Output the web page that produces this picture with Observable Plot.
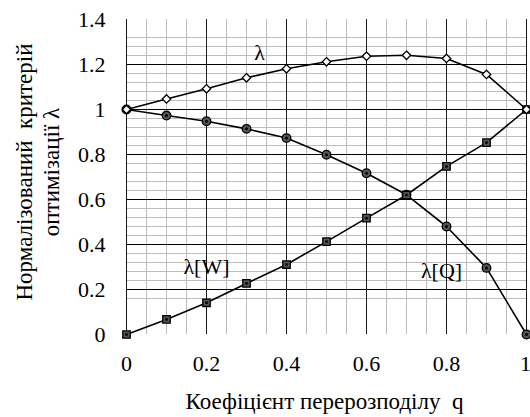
<!DOCTYPE html>
<html>
<head>
<meta charset="utf-8">
<script src="https://cdn.jsdelivr.net/npm/d3@7"></script>
<script src="https://cdn.jsdelivr.net/npm/@observablehq/plot@0.6"></script>
<style>
  html, body { margin: 0; padding: 0; background: #fff; }
  svg text { font-family: "Liberation Serif", "Times New Roman", serif; }
</style>
</head>
<body>
<div id="chart"></div>
<script>
// Data
const q = [0, 0.1, 0.2, 0.3, 0.4, 0.5, 0.6, 0.7, 0.8, 0.9, 1];
const lambda  = [1.0, 1.047, 1.092, 1.141, 1.181, 1.212, 1.237, 1.241, 1.227, 1.156, 1.0];
const lambdaQ = [1.0, 0.973, 0.948, 0.914, 0.873, 0.799, 0.717, 0.621, 0.48, 0.296, 0];
const lambdaW = [0, 0.067, 0.141, 0.227, 0.311, 0.413, 0.517, 0.62, 0.747, 0.853, 1.0];

const xTicks = [0, 0.2, 0.4, 0.6, 0.8, 1];
const xTickLabels = ["0", "0.2", "0.4", "0.6", "0.8", "1"];
const yTicks = [0, 0.2, 0.4, 0.6, 0.8, 1, 1.2, 1.4];
const yTickLabels = ["0", "0.2", "0.4", "0.6", "0.8", "1", "1.2", "1.4"];
const xMinor = [0.05, 0.1, 0.15, 0.25, 0.3, 0.35, 0.45, 0.5, 0.55, 0.65, 0.7, 0.75, 0.85, 0.9, 0.95];
const yMinor = [0.16, 0.24, 0.28, 0.32, 0.36, 0.44, 0.48, 0.52, 0.56, 0.64, 0.68, 0.72, 0.76,
                0.84, 0.88, 0.92, 0.96, 1.04, 1.08, 1.12, 1.16, 1.24, 1.28, 1.32];
const yMajor = [0.2, 0.4, 0.6, 0.8, 1, 1.2];

const seriesLabels = [
  {x: 0.333, y: 1.253, text: "λ"},
  {x: 0.2, y: 0.302, text: "λ[W]"},
  {x: 0.7875, y: 0.284, text: "λ[Q]"}
];
const xTitle = "Коефіцієнт перерозподілу  q";
const yTitle = "Нормалізований  критерій\nоптимізації λ";

const rows = (ys) => q.map((x, i) => ({x, y: ys[i]}));
const L = rows(lambda), LQ = rows(lambdaQ), LW = rows(lambdaW);
const xTickRows = xTicks.map((v, i) => ({v, label: xTickLabels[i]}));
const xTickInner = xTickRows.slice(0, -1);
const xTickLast = xTickRows.slice(-1);

const FF = "Liberation Serif";
const FS_TICK = 22;
const FS_LABEL = 22;
const FS_TITLE = 23;

const chart = Plot.plot({
  width: 530,
  height: 417,
  marginLeft: 126,
  marginRight: 4,
  marginTop: 19,
  marginBottom: 83,
  x: {domain: [0, 1], axis: null},
  y: {domain: [0, 1.4], axis: null},
  style: {background: "#fff", color: "#000"},
  marks: [
    // grid
    Plot.ruleX(xMinor, {x: d => d, stroke: "#bdbdbd", strokeWidth: 1}),
    Plot.ruleY(yMinor, {y: d => d, x1: 0, x2: 1, stroke: "#bdbdbd", strokeWidth: 1}),
    Plot.ruleY(yMajor, {y: d => d, x1: 0, x2: 1, stroke: "#000", strokeWidth: 1}),
    Plot.ruleX(xTicks, {x: d => d, stroke: "#1a1a1a", strokeWidth: 1}),
    // lines
    Plot.line(LW, {x: "x", y: "y", stroke: "#000", strokeWidth: 1.6}),
    Plot.line(LQ, {x: "x", y: "y", stroke: "#000", strokeWidth: 1.6}),
    Plot.line(L, {x: "x", y: "y", stroke: "#000", strokeWidth: 1.6}),
    // markers
    Plot.dot(LQ, {x: "x", y: "y", symbol: "circle", r: 4.3, fill: "#555", stroke: "#000", strokeWidth: 1.3}),
    Plot.dot(LQ, {x: "x", y: "y", symbol: "circle", r: 1.5, fill: "#000", stroke: "none"}),
    Plot.dot(LW, {x: "x", y: "y", symbol: "square", r: 4.2, fill: "#555", stroke: "#000", strokeWidth: 1.3}),
    Plot.dot(LW, {x: "x", y: "y", symbol: "square", r: 1.4, fill: "#000", stroke: "none"}),
    Plot.dot(L, {x: "x", y: "y", symbol: "diamond2", r: 3.8, fill: "#fff", stroke: "#000", strokeWidth: 1.3}),
    // series labels
    Plot.text(seriesLabels, {x: "x", y: "y", text: "text", fontSize: FS_LABEL, fontFamily: FF, fill: "#000"}),
    // tick labels
    Plot.text(xTickInner, {x: "v", y: () => 0, text: "label", lineAnchor: "middle", dy: 29, fontSize: FS_TICK, fontFamily: FF, fill: "#000"}),
    Plot.text(xTickLast, {x: "v", y: () => 0, text: "label", lineAnchor: "middle", dy: 29, dx: -1, fontSize: FS_TICK, fontFamily: FF, fill: "#000"}),
    Plot.text(yTicks, {x: () => 0, y: d => d, text: (d, i) => yTickLabels[i], textAnchor: "end", dx: -21, fontSize: FS_TICK, fontFamily: FF, fill: "#000"}),
    // axis titles
    Plot.text([xTitle], {x: () => 0.5, y: () => 0, text: d => d, lineAnchor: "middle", dy: 67, dx: -2, fontSize: FS_TITLE, fontFamily: FF, fill: "#000"}),
    Plot.text([yTitle], {x: () => 0, y: () => 0.7, text: d => d, rotate: -90, lineAnchor: "middle", lineHeight: 1.2, dx: -90, dy: -5, fontSize: FS_TITLE, fontFamily: FF, fill: "#000"})
  ]
});
document.getElementById("chart").appendChild(chart);
</script>
</body>
</html>
